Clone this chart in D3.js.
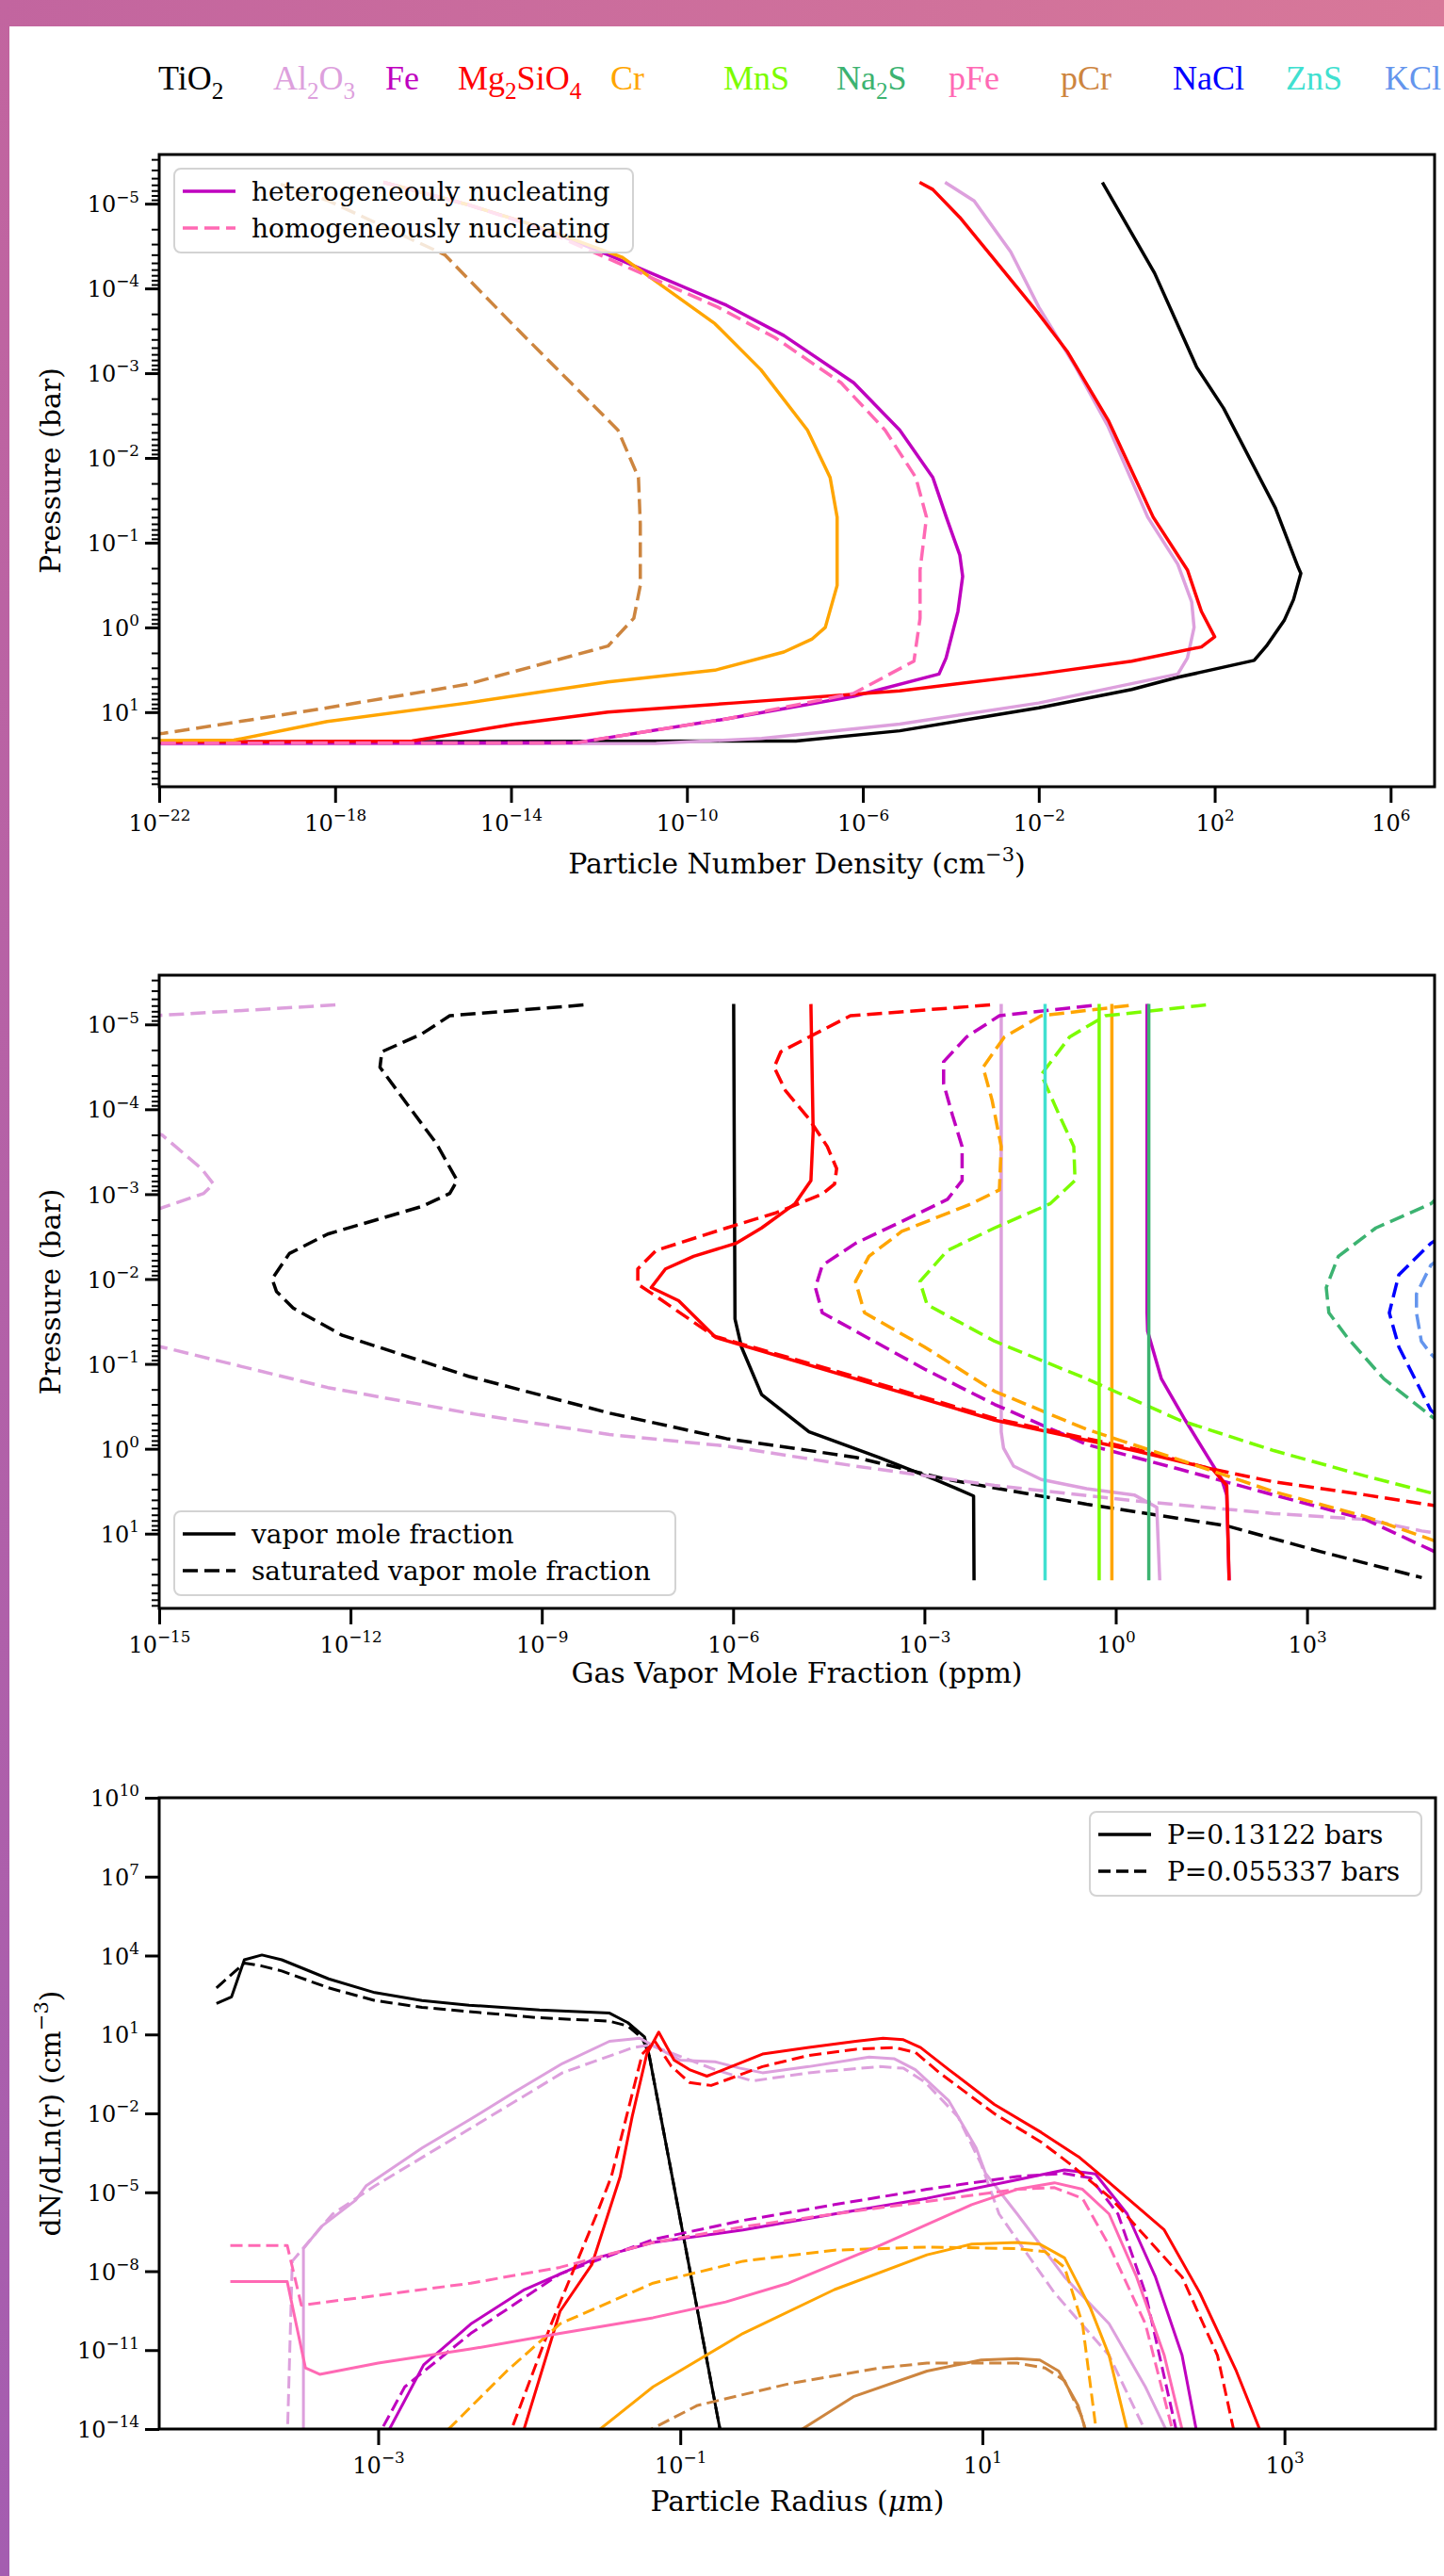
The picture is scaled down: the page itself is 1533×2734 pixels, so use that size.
<!DOCTYPE html>
<html>
<head>
<meta charset="utf-8">
<script src="https://cdn.jsdelivr.net/npm/d3@7"></script>
<style>
  body { margin: 0; background: #fff; }
  svg  { display: block; }
</style>
</head>
<body>
<script>
// ── Species and colours ──────────────────────────────────────────────────
const species = ['TiO2', 'Al2O3', 'Fe', 'Mg2SiO4', 'Cr', 'MnS', 'Na2S', 'pFe', 'pCr', 'NaCl', 'ZnS', 'KCl'];
const COLORS = {
  TiO2: '#000000', Al2O3: '#dda0dd', Fe: '#bf00bf', Mg2SiO4: '#ff0000', Cr: '#ffa500',
  MnS: '#7cfc00', Na2S: '#3cb371', pFe: '#ff69b4', pCr: '#cd853f', NaCl: '#0000ff',
  ZnS: '#40e0d0', KCl: '#6495ed'
};

// ── Panel 1: particle number density [cm^-3, bar] ────────────────────────
const nd_TiO2 = [[2.8e-1,5.6e-6],[4.3,6.6e-5],[3.9e1,8.5e-4],[1.6e2,2.6e-3],[2.4e3,3.9e-2],[7.9e3,1.95e-1],[9.1e3,2.3e-1],[6.2e3,4.7e-1],[3.8e3,8.3e-1],[1.5e3,1.66],[7.9e2,2.45],[1.4e1,3.9],[1.3,5.4],[1e-2,8.9],[6.9e-6,16.6],[3.0e-8,21.9],[1e-30,22.9]];
const nd_Al2O3 = [[7.4e-5,5.6e-6],[3.4e-4,9.3e-6],[2.3e-3,3.7e-5],[1e-2,1.66e-4],[6.9e-2,8.5e-4],[3.8e-1,4.3e-3],[3.0,5.0e-2],[1.45e1,1.8e-1],[3.0e1,5.0e-1],[3.4e1,1.0],[2.4e1,2.3],[1.45e1,3.55],[1e-2,7.8],[6.9e-6,13.8],[5e-9,20.4],[2e-11,23.4],[1e-30,24]];
const nd_Fe = [[1.26e-17,5.6e-6],[1e-15,1.02e-5],[4.1e-14,1.86e-5],[1.6e-12,4e-5],[7.9e-10,1.58e-4],[1.6e-8,3.6e-4],[6.2e-7,1.3e-3],[6.9e-6,4.7e-3],[3.9e-5,1.7e-2],[7.9e-5,5e-2],[1.6e-4,1.4e-1],[1.86e-4,2.5e-1],[1.45e-4,6.5e-1],[7.8e-5,2.3],[5.4e-5,3.55],[6.2e-7,6.5],[7.9e-10,12],[3e-13,23],[1e-30,23.4]];
const nd_Mg2SiO4 = [[1.95e-5,5.6e-6],[3.9e-5,6.8e-6],[1.6e-4,1.45e-5],[8.9e-4,4.3e-5],[1e-2,2e-4],[4.4e-2,5.5e-4],[3.8e-1,3.6e-3],[4.0,5e-2],[2.4e1,2.1e-1],[5e1,6.5e-1],[1e2,1.29],[5e1,1.7],[1.3,2.5],[1e-2,3.55],[6.9e-6,5.6],[1.15e-9,7.8],[1.6e-12,10],[1.2e-14,13.8],[5.6e-17,21.9],[1e-30,23.4]];
const nd_Cr = [[1.26e-17,5.6e-6],[1e-15,1.02e-5],[4.1e-14,1.86e-5],[3.4e-12,4.3e-5],[4.3e-10,2.6e-4],[4.8e-9,9.1e-4],[5.5e-8,4.7e-3],[1.8e-7,1.7e-2],[2.6e-7,5e-2],[2.6e-7,3.2e-1],[1.4e-7,1.0],[6.9e-8,1.38],[1.6e-8,1.95],[4.3e-10,3.2],[1.6e-12,4.4],[1e-15,7.8],[6.6e-19,12.9],[5e-21,21.4],[1e-30,22.9]];
const nd_pFe = [[1.26e-17,5.6e-6],[1e-15,1.02e-5],[4e-14,1.9e-5],[1.26e-12,4.2e-5],[5e-10,1.66e-4],[1e-8,3.8e-4],[3.2e-7,1.3e-3],[3.2e-6,4.7e-3],[1.6e-5,1.7e-2],[2.8e-5,5e-2],[2e-5,2.1e-1],[2e-5,7.8e-1],[1.45e-5,2.5],[6.2e-7,6],[7.9e-10,12],[3e-13,23],[1e-30,23.4]];
const nd_pCr = [[5.8e-20,5.9e-6],[6.6e-19,9.1e-6],[3.1e-16,4e-5],[1.2e-14,2.8e-4],[2.3e-13,1.3e-3],[2.7e-12,4.7e-3],[7.9e-12,1.7e-2],[8.7e-12,6e-2],[8.7e-12,3.2e-1],[6.2e-12,7.8e-1],[1.6e-12,1.66],[1e-15,4.7],[6.6e-19,8.9],[1.26e-22,17.8],[1e-24,22.4]];

// ── Panel 2: gas vapor mole fraction [ppm, bar] ──────────────────────────
const vmr_TiO2 = [[1.02e-6,5.75e-6],[1.07e-6,2.95e-2],[1.35e-6,6.3e-2],[2.8e-6,2.3e-1],[1.55e-5,6.3e-1],[1.9e-4,1.26],[1.45e-3,2.3],[3.2e-3,2.95],[5.9e-3,3.6],[6e-3,35.5]];
const sat_TiO2 = [[4.5e-9,5.9e-6],[3.6e-11,7.9e-6],[1.3e-11,1.3e-5],[3.1e-12,2.1e-5],[2.9e-12,3.2e-5],[7.9e-12,8.9e-5],[2.2e-11,2.5e-4],[4.7e-11,6.9e-4],[3.6e-11,9.8e-4],[1.3e-11,1.4e-3],[4.4e-13,2.95e-3],[1.1e-13,5e-3],[5.9e-14,1e-2],[6.9e-14,1.4e-2],[1.26e-13,2.2e-2],[7.4e-13,4.6e-2],[7.1e-11,1.4e-1],[1.15e-8,3.8e-1],[7.9e-7,7.6e-1],[8.3e-5,1.26],[2.3e-3,2.3],[3.5e-1,4.5],[55,8.1],[1.6e3,16.2],[6.3e4,33]];
const vmr_Al2O3 = [[1.6e-2,5.75e-6],[1.6e-2,6.3e-1],[1.74e-2,9.8e-1],[2.5e-2,1.6],[6.8e-2,2.3],[3.5e-1,2.95],[1.95,3.5],[4.4,4.9],[4.9,35.5]];
const sat_Al2O3 = [[5.8e-13,5.9e-6],[1.1e-15,7.8e-6],[7.9e-16,7.9e-6],null,[7.9e-16,1.9e-4],[1.1e-15,2.0e-4],[4.6e-15,5e-4],[7.1e-15,7.6e-4],[5e-15,9.8e-4],[1.1e-15,1.45e-3],[7.9e-16,1.55e-3],null,[7.9e-16,6e-2],[1.4e-15,6.6e-2],[4.4e-13,1.9e-1],[7.1e-11,3.8e-1],[1.15e-8,6.8e-1],[7.9e-7,9.3e-1],[8.3e-5,1.6],[1.26e-2,2.7],[1.95,4.1],[3e2,5.8],[8.3e3,6.8],[6.3e4,9.3],[1.26e5,10]];
const vmr_Fe = [[3.1,5.75e-6],[3.1,2.5e-2],[3.16,4.1e-2],[5.2,1.5e-1],[12.3,4.6e-1],[28,1.26],[46,2.3],[55,3.5],[60,35.5]];
const sat_Fe = [[4.2e-1,6e-6],[1.5e-2,7.9e-6],[4.6e-3,1.4e-5],[2e-3,2.75e-5],[2e-3,5e-5],[2.75e-3,1.17e-4],[3.9e-3,2.75e-4],[3.9e-3,6.9e-4],[2.3e-3,1.15e-3],[4.4e-4,2.1e-3],[8.3e-5,3.8e-3],[2.5e-5,6.9e-3],[1.95e-5,1.26e-2],[2.5e-5,2.5e-2],[8.3e-5,4.1e-2],[1e-3,1.15e-1],[1.26e-2,3e-1],[3.5e-1,8.9e-1],[10,1.74],[3e2,3.5],[8.3e3,6.8],[8.7e4,15.5],[1.26e5,17.8]];
const vmr_Mg2SiO4 = [[1.66e-5,5.75e-6],[1.8e-5,1.8e-4],[1.66e-5,6.9e-4],[9.3e-6,1.3e-3],[2.8e-6,2.5e-3],[1.1e-6,3.8e-3],[2.4e-7,5.4e-3],[8.7e-8,7.6e-3],[5.2e-8,1.26e-2],[1.4e-7,1.8e-2],[5.4e-7,4.9e-2],[8.3e-5,1.5e-1],[1.26e-2,4.6e-1],[1.95,1.05],[33,1.74],[55,2.7],[60,35.5]];
const sat_Mg2SiO4 = [[1.07e-2,5.9e-6],[6.9e-5,7.9e-6],[2.5e-5,1.17e-5],[5.6e-6,2.1e-5],[4.4e-6,3.2e-5],[6.6e-6,6e-5],[1.55e-5,1.3e-4],[3e-5,2.75e-4],[4.2e-5,5e-4],[3.9e-5,7.6e-4],[2.5e-5,1e-3],[4.7e-6,1.66e-3],[7.9e-7,2.5e-3],[6.2e-8,4.6e-3],[3.2e-8,7.6e-3],[3.2e-8,1.15e-2],[6.2e-8,1.6e-2],[5e-7,4.7e-2],[7.9e-5,1.4e-1],[1.26e-2,4.4e-1],[1.95,1.0],[33,1.74],[3e2,2.45],[8.3e3,3.5],[8.7e4,4.6],[1.26e5,4.8]];
const vmr_Cr = [[8.7e-1,5.75e-6],[8.7e-1,35.5]];
const sat_Cr = [[1.6,6e-6],[6.8e-2,7.9e-6],[1.8e-2,1.4e-5],[8.3e-3,3.2e-5],[1.15e-2,7.8e-5],[1.6e-2,2.75e-4],[1.5e-2,8.9e-4],[5.4e-3,1.3e-3],[4.4e-4,2.75e-3],[1.35e-4,5.4e-3],[8.3e-5,1.07e-2],[1.15e-4,2.5e-2],[1e-3,6.3e-2],[1.26e-2,2.1e-1],[3.5e-1,5.9e-1],[10,1.35],[3e2,3.2],[8.3e3,6.3],[8.7e4,11.7],[1.26e5,12.9]];
const vmr_MnS = [[5.5e-1,5.75e-6],[5.5e-1,35.5]];
const sat_MnS = [[26,5.9e-6],[6.9e-1,7.9e-6],[1.9e-1,1.4e-5],[6.8e-2,3.9e-5],[1.3e-1,1.17e-4],[2.2e-1,2.75e-4],[2.3e-1,6.9e-4],[9.3e-2,1.3e-3],[1.26e-2,2.5e-3],[2.3e-3,4.6e-3],[8.5e-4,1.07e-2],[1.1e-3,2e-2],[1.26e-2,5.4e-2],[3.5e-1,1.5e-1],[10,4.6e-1],[3e2,1.05],[8.3e3,2.1],[8.7e4,3.3],[1.26e5,3.55]];
const vmr_Na2S = [[3.3,5.75e-6],[3.3,35.5]];
const sat_Na2S = [[1.26e5,1e-3],[8.7e4,1.3e-3],[1.2e4,2.5e-3],[3.1e3,5.4e-3],[2e3,1.26e-2],[2.2e3,2.5e-2],[4.3e3,4.9e-2],[1.6e4,1.5e-1],[8.7e4,4.1e-1],[1.26e5,5e-1]];
const sat_NaCl = [[1.26e5,3.2e-3],[8.7e4,3.8e-3],[2.75e4,8.9e-3],[1.95e4,2.5e-2],[2.75e4,6.3e-2],[8.7e4,3.5e-1],[1.26e5,4.5e-1]];
const vmr_ZnS = [[7.8e-2,5.75e-6],[7.8e-2,35.5]];
const sat_KCl = [[1.26e5,5.6e-3],[8.7e4,6.9e-3],[5.2e4,1.5e-2],[5.2e4,2.5e-2],[6.2e4,5.4e-2],[8.7e4,7.6e-2],[1.26e5,1e-1]];

// ── Panel 3: size distribution [radius um, dN/dln r cm^-3] ──────────────
// _a = P 0.13122 bar (solid), _b = P 0.055337 bar (dashed)
const dn_TiO2_a = [[8.5e-5,1.5e2],[1.07e-4,2.7e2],[1.3e-4,6.9e3],[1.7e-4,1.05e4],[2.3e-4,6.9e3],[4.7e-4,1.3e3],[9.5e-4,3.9e2],[1.95e-3,1.95e2],[4e-3,1.3e2],[1.17e-2,85],[3.4e-2,65],[4.5e-2,28],[5.8e-2,8.1],[6.2e-2,1.8],[8.9e-2,3.2e-5],[1.9e-1,3.2e-15]];
const dn_TiO2_b = [[8.5e-5,5.9e2],[1.3e-4,5.2e3],[1.7e-4,4e3],[2.3e-4,2.6e3],[4.7e-4,5.9e2],[9.5e-4,1.95e2],[1.95e-3,1.07e2],[4e-3,74],[1.17e-2,43],[3.4e-2,32],[4.5e-2,21],[5.6e-2,7.2],[6.2e-2,1.8],[8.9e-2,3.2e-5],[1.9e-1,3.2e-15]];
const dn_Al2O3_a = [[3.2e-4,3.2e-15],[3.2e-4,7.2e-8],[4.2e-4,5e-7],[7.1e-4,5e-6],[8.3e-4,1.74e-5],[1.95e-3,4.8e-4],[4e-3,5.6e-3],[8.1e-3,6.8e-2],[1.66e-2,7.9e-1],[3.4e-2,5.5],[5.4e-2,7.2],[1e-1,1.05],[1.7e-1,9.1e-1],[2.5e-1,5.2e-1],[3.5e-1,3.5e-1],[7.1e-1,6e-1],[1.78,1.38],[2.6,1.2],[3.6,4.6e-1],[6,3e-2],[9.1,4.8e-4],[10.5,5.2e-5],[17,1.5e-6],[35,6e-9],[69,1e-10],[1.2e2,4e-13],[1.8e2,3.2e-15]];
const dn_Al2O3_b = [[2.5e-4,3.2e-15],[2.7e-4,2.4e-8],[3.3e-4,9.5e-8],[5e-4,1.5e-6],[9.5e-4,1.74e-5],[4e-3,2.5e-3],[1.66e-2,3.5e-1],[4.9e-2,3.2],[6.3e-2,4],[1.7e-1,4.6e-1],[3e-1,1.7e-1],[7.1e-1,3.5e-1],[2.1,6e-1],[3,5.2e-1],[4.2,1.5e-1],[6.9,7.4e-3],[9.8,1.2e-4],[12.9,1.5e-6],[30,1.5e-9],[69,6.3e-12],[1.3e2,3.2e-15]];
const dn_Fe_a = [[1.07e-3,3.2e-15],[2e-3,2.75e-12],[4.1e-3,9.8e-11],[9.3e-3,2e-9],[2.8e-2,3.2e-8],[6.6e-2,1.23e-7],[2.6e-1,3.7e-7],[1.05,1.5e-6],[4.3,5.9e-6],[17,3e-5],[35,7.1e-5],[56,5e-5],[91,1.5e-6],[1.4e2,6e-9],[2.1e2,6.3e-12],[2.7e2,3.2e-15]];
const dn_Fe_b = [[9.5e-4,3.2e-15],[1.5e-3,4e-13],[4.1e-3,4.3e-11],[1.6e-2,7.9e-9],[6.6e-2,1.6e-7],[2.6e-1,8.5e-7],[1.05,3.4e-6],[4.3,1.3e-5],[17,4e-5],[35,5.2e-5],[52,3.5e-5],[79,1.5e-6],[1.2e2,1.5e-9],[2e2,3.2e-15]];
const dn_Mg2SiO4_a = [[8.7e-3,3.2e-15],[1.6e-2,3e-10],[2.6e-2,1.8e-8],[4e-2,4e-5],[4.8e-2,7.4e-3],[6e-2,1.8],[7.2e-2,12.3],[9.1e-2,1.05],[1.15e-1,4.6e-1],[1.5e-1,2.6e-1],[1.9e-1,4.4e-1],[3.5e-1,1.8],[7.1e-1,3.2],[1.45,5.5],[2.2,7.2],[3,6.3],[3.9,3.2],[6,4.6e-1],[12,2.2e-2],[24.5,1.9e-3],[44,2.1e-4],[62,4e-5],[1.6e2,3.7e-7],[2.75e2,1.5e-9],[4.8e2,1.6e-12],[7.4e2,3.2e-15]];
const dn_Mg2SiO4_b = [[7.1e-3,3.2e-15],[1.4e-2,1e-10],[2.8e-2,1.5e-6],[3.5e-2,4e-5],[4.4e-2,7.4e-3],[5.6e-2,1.8],[6.8e-2,5.5],[8.7e-2,6.3e-1],[1.15e-1,1.5e-1],[1.6e-1,1.15e-1],[3.5e-1,6e-1],[7.1e-1,1.6],[1.45,2.75],[2.6,3.2],[3.6,2.1],[5.2,3.5e-1],[12,9.8e-3],[24.5,8.1e-4],[38,1.2e-4],[71,5.9e-6],[2.1e2,6e-9],[3.6e2,6.3e-12],[4.8e2,3.2e-15]];
const dn_Cr_a = [[2.3e-2,3.2e-15],[6.6e-2,4e-13],[2.6e-1,4.3e-11],[1.05,2e-9],[4.3,4.2e-8],[8.5,1.07e-7],[17,1.23e-7],[24,1.07e-7],[35,3.2e-8],[52,3.9e-10],[69,6.3e-12],[95,3.2e-15]];
const dn_Cr_b = [[2.4e-3,3.2e-15],[7.1e-3,1.6e-12],[1.6e-2,1e-10],[6.6e-2,3.5e-9],[2.6e-1,2.4e-8],[1.05,6.3e-8],[4.3,8.3e-8],[17,7.2e-8],[26,5.5e-8],[35,1.4e-8],[46,1e-10],[58,3.2e-15]];
const dn_pFe_a = [[1.05e-4,4e-9],[2.5e-4,4e-9],[3.3e-4,2.1e-12],[4.1e-4,1.2e-12],[1e-3,3.2e-12],[4.1e-3,1.1e-11],[1.6e-2,4.3e-11],[6.6e-2,1.7e-10],[2e-1,6.8e-10],[5.2e-1,3.5e-9],[2.1,9.5e-8],[8.5,3.4e-6],[17,1.3e-5],[30,2.3e-5],[46,1.3e-5],[69,1.5e-6],[1.05e2,6e-9],[1.6e2,6.3e-12],[2.2e2,3.2e-15]];
const dn_pFe_b = [[1.05e-4,9.5e-8],[2.5e-4,9.5e-8],[3.1e-4,5.1e-10],[1e-3,1.2e-9],[4.1e-3,3.5e-9],[1.6e-2,1.4e-8],[6.6e-2,1.23e-7],[2.6e-1,4.9e-7],[1.05,1.5e-6],[4.3,4.5e-6],[17,1.3e-5],[30,1.5e-5],[46,5.9e-6],[69,9.5e-8],[1.2e2,1e-10],[1.9e2,3.2e-15]];
const dn_pCr_a = [[4.7e-1,3.2e-15],[1.4,1.7e-13],[4.3,1.6e-12],[9.8,4.2e-12],[17,4.8e-12],[24,4.2e-12],[32,1.6e-12],[43,7.9e-14],[51,3.2e-15]];
const dn_pCr_b = [[4.4e-2,3.2e-15],[1.3e-1,7.9e-14],[5.2e-1,5.2e-13],[2.1,2.1e-12],[4.3,3.2e-12],[17,3.2e-12],[26,2.1e-12],[35,6.9e-13],[46,2.6e-14],[50,3.2e-15]];

// ── Tick values ──────────────────────────────────────────────────────────
const pressureTicks = [1e-5, 1e-4, 1e-3, 1e-2, 1e-1, 1, 10];
const ndTicks       = [1e-22, 1e-18, 1e-14, 1e-10, 1e-6, 1e-2, 1e2, 1e6];
const vmrTicks      = [1e-15, 1e-12, 1e-9, 1e-6, 1e-3, 1, 1e3];
const radiusTicks   = [1e-3, 1e-1, 1e1, 1e3];
const dndrTicks     = [1e-14, 1e-11, 1e-8, 1e-5, 1e-2, 1e1, 1e4, 1e7, 1e10];

// ── Page & helpers ───────────────────────────────────────────────────────
const W = 1533, H = 2734;
const FONT = '"DejaVu Serif", serif';
const TICK_FS = 24, LABEL_FS = 30, LEG_FS = 28, HEAD_FS = 36;

const svg = d3.select('body').append('svg')
  .attr('width', W).attr('height', H)
  .attr('font-family', FONT);
const defs = svg.append('defs');

const gTop = defs.append('linearGradient').attr('id', 'gTop');
gTop.append('stop').attr('offset', '0%').attr('stop-color', '#c2659f');
gTop.append('stop').attr('offset', '100%').attr('stop-color', '#d87899');
const gLeft = defs.append('linearGradient').attr('id', 'gLeft')
  .attr('x1', 0).attr('y1', 0).attr('x2', 0).attr('y2', 1);
gLeft.append('stop').attr('offset', '0%').attr('stop-color', '#c2659f');
gLeft.append('stop').attr('offset', '100%').attr('stop-color', '#a45db0');

svg.append('rect').attr('width', W).attr('height', 28).attr('fill', 'url(#gTop)');
svg.append('rect').attr('width', 10).attr('height', H).attr('fill', 'url(#gLeft)');
svg.append('rect').attr('x', 10).attr('y', 28).attr('width', W - 10).attr('height', H - 28).attr('fill', '#fff');

// parts: [text, kind] with kind '', 'sup', 'sub' or 'it'
// dy is only written when the baseline actually moves, so the parent's dy survives
function rich(sel, parts, size) {
  let shift = 0;
  parts.forEach(([t, kind]) => {
    const target = kind === 'sup' ? -0.45 : kind === 'sub' ? 0.28 : 0;
    const small  = kind === 'sup' || kind === 'sub';
    const ts = sel.append('tspan')
      .attr('font-size', small ? size * 0.7 : size)
      .attr('font-style', kind === 'it' ? 'italic' : null)
      .text(t);
    if (target !== shift) ts.attr('dy', ((target - shift) * size).toFixed(2));
    shift = target;
  });
  return sel;
}

const powParts  = d => [['10', ''], [String(Math.round(Math.log10(d))).replace('-', '\u2212'), 'sup']];
const chemParts = name => name.split(/(\d+)/).filter(Boolean).map(s => [s, /^\d+$/.test(s) ? 'sub' : '']);

// ── Header row of species names (page text, Times-like) ──────────────────
const headerX = [168, 290, 409, 486, 648, 768, 888, 1007, 1126, 1245, 1365, 1470];
species.forEach((sp, i) => {
  rich(svg.append('text')
    .attr('x', headerX[i]).attr('y', 95)
    .attr('font-family', '"Liberation Serif", "Times New Roman", serif')
    .attr('fill', COLORS[sp]).attr('font-size', HEAD_FS), chemParts(sp), HEAD_FS);
});

// ── Generic log-log panel ────────────────────────────────────────────────
function styleAxis(g) {
  g.attr('font-size', TICK_FS).attr('font-family', null);
  g.select('.domain').remove();
  g.selectAll('.tick line').attr('stroke', '#000');
  g.selectAll('.tick text').attr('fill', '#000');
}

function drawPanel(p) {
  const { l, r, t, b } = p.box;
  const x = d3.scaleLog().domain(p.xDomain).range([l, r]);
  const y = d3.scaleLog().domain(p.yDomain).range(p.yInverted ? [t, b] : [b, t]);

  const clipId = 'clip-' + p.id;
  defs.append('clipPath').attr('id', clipId)
    .append('rect').attr('x', l).attr('y', t).attr('width', r - l).attr('height', b - t);

  const line = d3.line()
    .defined(d => d !== null)
    .x(d => x(d[0]))
    .y(d => y(d[1]));

  const lines = svg.append('g').attr('clip-path', `url(#${clipId})`);
  p.series.forEach(s => {
    lines.append('path')
      .attr('d', line(s.data))
      .attr('fill', 'none')
      .attr('stroke', COLORS[s.sp])
      .attr('stroke-width', p.lw)
      .attr('stroke-linejoin', 'round')
      .attr('stroke-dasharray', s.dash ? p.dash : null);
  });

  // x axis
  const xa = svg.append('g')
    .attr('transform', `translate(0,${b})`)
    .call(d3.axisBottom(x).tickValues(p.xTicks).tickSizeInner(17).tickSizeOuter(0)
      .tickPadding(13).tickFormat(() => ''));
  styleAxis(xa);
  xa.selectAll('.tick line').attr('stroke-width', 3);
  xa.selectAll('.tick text').each(function (d) { rich(d3.select(this), powParts(d), TICK_FS); });

  // y axis
  const ya = svg.append('g')
    .attr('transform', `translate(${l},0)`)
    .call(d3.axisLeft(y).tickValues(p.yTicks).tickSizeInner(15).tickSizeOuter(0)
      .tickPadding(6).tickFormat(() => ''));
  styleAxis(ya);
  ya.selectAll('.tick line').attr('stroke-width', 3);
  ya.selectAll('.tick text').attr('dy', '0.36em')
    .each(function (d) { rich(d3.select(this), powParts(d), TICK_FS); });

  if (p.minorY) {
    const [lo, hi] = p.yDomain;
    const minors = [];
    for (let e = Math.floor(Math.log10(lo)); e <= Math.ceil(Math.log10(hi)); e++) {
      for (let k = 2; k <= 9; k++) {
        const v = k * Math.pow(10, e);
        if (v >= lo && v <= hi) minors.push(v);
      }
    }
    const ym = svg.append('g')
      .attr('transform', `translate(${l},0)`)
      .call(d3.axisLeft(y).tickValues(minors).tickSizeInner(8).tickSizeOuter(0).tickFormat(() => ''));
    styleAxis(ym);
    ym.selectAll('.tick line').attr('stroke-width', 2);
  }

  // frame
  svg.append('rect')
    .attr('x', l).attr('y', t).attr('width', r - l).attr('height', b - t)
    .attr('fill', 'none').attr('stroke', '#000').attr('stroke-width', 3);

  // axis labels
  rich(svg.append('text')
    .attr('x', (l + r) / 2).attr('y', p.xLabelY)
    .attr('text-anchor', 'middle').attr('font-size', LABEL_FS), p.xLabel, LABEL_FS);
  rich(svg.append('text')
    .attr('transform', `translate(64,${(t + b) / 2}) rotate(-90)`)
    .attr('text-anchor', 'middle').attr('font-size', LABEL_FS), p.yLabel, LABEL_FS);

  if (p.legend) drawLegend(p.legend, p.dash);
}

function drawLegend(lg, dash) {
  svg.append('rect')
    .attr('x', lg.x).attr('y', lg.y).attr('width', lg.w).attr('height', lg.h)
    .attr('rx', 7)
    .attr('fill', '#fff').attr('fill-opacity', 0.8)
    .attr('stroke', '#d3d3d3').attr('stroke-width', 2);
  lg.entries.forEach((e, i) => {
    const cy = lg.y + 24 + i * 39;
    svg.append('line')
      .attr('x1', lg.x + 9).attr('x2', lg.x + 65)
      .attr('y1', cy).attr('y2', cy)
      .attr('stroke', e.color).attr('stroke-width', 3.5)
      .attr('stroke-dasharray', e.dash ? dash : null);
    svg.append('text')
      .attr('x', lg.x + 82).attr('y', cy).attr('dy', '0.35em')
      .attr('font-size', LEG_FS).attr('fill', '#000')
      .text(e.label);
  });
}

const P_DOMAIN = [2.63e-6, 75.9];

drawPanel({
  id: 'nd',
  box: { l: 169, r: 1523, t: 164, b: 835 },
  xDomain: [1e-22, 1e7], yDomain: P_DOMAIN, yInverted: true,
  xTicks: ndTicks, yTicks: pressureTicks, minorY: true,
  lw: 3.5, dash: '16,7',
  xLabel: [['Particle Number Density (cm', ''], ['\u22123', 'sup'], [')', '']], xLabelY: 927,
  yLabel: [['Pressure (bar)', '']],
  series: [
    { sp: 'TiO2', data: nd_TiO2 },
    { sp: 'Al2O3', data: nd_Al2O3 },
    { sp: 'Fe', data: nd_Fe },
    { sp: 'Mg2SiO4', data: nd_Mg2SiO4 },
    { sp: 'Cr', data: nd_Cr },
    { sp: 'pFe', data: nd_pFe, dash: true },
    { sp: 'pCr', data: nd_pCr, dash: true }
  ],
  legend: { x: 185, y: 179, w: 487, h: 89, entries: [
    { label: 'heterogeneouly nucleating', color: COLORS.Fe },
    { label: 'homogeneously nucleating', color: COLORS.pFe, dash: true }
  ] }
});

drawPanel({
  id: 'vmr',
  box: { l: 169, r: 1523, t: 1035, b: 1707 },
  xDomain: [1e-15, 1e5], yDomain: P_DOMAIN, yInverted: true,
  xTicks: vmrTicks, yTicks: pressureTicks, minorY: true,
  lw: 3.5, dash: '16,7',
  xLabel: [['Gas Vapor Mole Fraction (ppm)', '']], xLabelY: 1786,
  yLabel: [['Pressure (bar)', '']],
  series: [
    { sp: 'TiO2', data: vmr_TiO2 }, { sp: 'TiO2', data: sat_TiO2, dash: true },
    { sp: 'Al2O3', data: vmr_Al2O3 }, { sp: 'Al2O3', data: sat_Al2O3, dash: true },
    { sp: 'Fe', data: vmr_Fe }, { sp: 'Fe', data: sat_Fe, dash: true },
    { sp: 'Mg2SiO4', data: vmr_Mg2SiO4 }, { sp: 'Mg2SiO4', data: sat_Mg2SiO4, dash: true },
    { sp: 'Cr', data: vmr_Cr }, { sp: 'Cr', data: sat_Cr, dash: true },
    { sp: 'MnS', data: vmr_MnS }, { sp: 'MnS', data: sat_MnS, dash: true },
    { sp: 'Na2S', data: vmr_Na2S }, { sp: 'Na2S', data: sat_Na2S, dash: true },
    { sp: 'NaCl', data: sat_NaCl, dash: true },
    { sp: 'ZnS', data: vmr_ZnS },
    { sp: 'KCl', data: sat_KCl, dash: true }
  ],
  legend: { x: 185, y: 1604, w: 532, h: 89, entries: [
    { label: 'vapor mole fraction', color: '#000' },
    { label: 'saturated vapor mole fraction', color: '#000', dash: true }
  ] }
});

drawPanel({
  id: 'dist',
  box: { l: 169, r: 1524, t: 1908, b: 2578 },
  xDomain: [3.55e-5, 1e4], yDomain: [1e-14, 1e10], yInverted: false,
  xTicks: radiusTicks, yTicks: dndrTicks, minorY: false,
  lw: 3, dash: '13,6',
  xLabel: [['Particle Radius (', ''], ['\u03bc', 'it'], ['m)', '']], xLabelY: 2665,
  yLabel: [['dN/dLn(r) (cm', ''], ['\u22123', 'sup'], [')', '']],
  series: [
    { sp: 'TiO2', data: dn_TiO2_a }, { sp: 'TiO2', data: dn_TiO2_b, dash: true },
    { sp: 'Al2O3', data: dn_Al2O3_a }, { sp: 'Al2O3', data: dn_Al2O3_b, dash: true },
    { sp: 'Fe', data: dn_Fe_a }, { sp: 'Fe', data: dn_Fe_b, dash: true },
    { sp: 'Mg2SiO4', data: dn_Mg2SiO4_a }, { sp: 'Mg2SiO4', data: dn_Mg2SiO4_b, dash: true },
    { sp: 'Cr', data: dn_Cr_a }, { sp: 'Cr', data: dn_Cr_b, dash: true },
    { sp: 'pFe', data: dn_pFe_a }, { sp: 'pFe', data: dn_pFe_b, dash: true },
    { sp: 'pCr', data: dn_pCr_a }, { sp: 'pCr', data: dn_pCr_b, dash: true }
  ],
  legend: { x: 1157, y: 1923, w: 352, h: 89, entries: [
    { label: 'P=0.13122 bars', color: '#000' },
    { label: 'P=0.055337 bars', color: '#000', dash: true }
  ] }
});
</script>
</body>
</html>
